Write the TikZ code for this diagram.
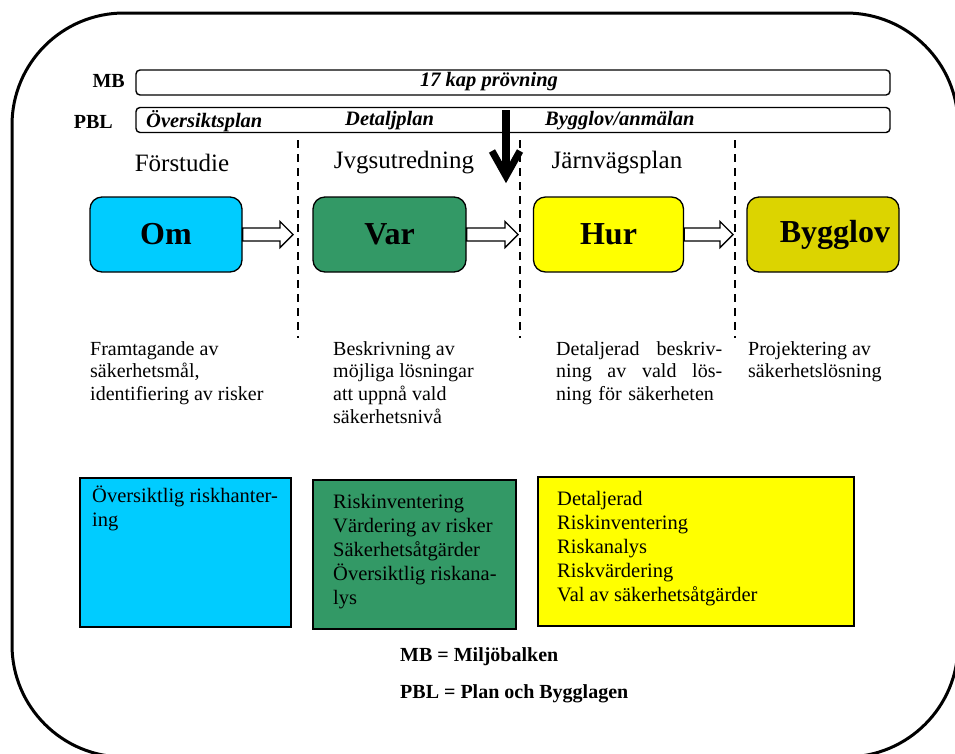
\documentclass[tikz,border=0pt]{standalone}
\usepackage{fontspec}
\setmainfont{Liberation Serif}
\usetikzlibrary{calc}
\definecolor{omcyan}{HTML}{00CCFF}
\definecolor{vargreen}{HTML}{339966}
\definecolor{huryellow}{HTML}{FFFF00}
\definecolor{byggolive}{RGB}{220,212,0}
\newcommand\fsz[2]{\fontsize{#1}{#2}\selectfont}
\tikzset{
  frame/.style={line width=3pt, rounded corners=112pt},
  barbox/.style={draw, line width=1.4pt, rounded corners=4pt, minimum width=754pt, minimum height=25pt, inner sep=0pt},
  barlabel/.style={font=\fsz{20}{24}\bfseries, inner sep=0pt},
  bartext/.style={font=\fsz{20.5}{24}\bfseries\itshape, inner sep=0pt},
  phaselabel/.style={font=\fsz{25}{30}, inner sep=0pt},
  procbox/.style={draw, line width=1.3pt, rounded corners=12pt, minimum height=75pt, inner sep=0pt, font=\fsz{32}{36}\bfseries},
  phasedash/.style={line width=2pt, dash pattern=on 8pt off 6pt},
  blockarrow/.style={draw, fill=white, line width=1.4pt, line join=miter, to path={
    let \p1=(\tikztostart), \p2=(\tikztotarget) in
    (\x1,\y1+6.5pt) -- (\x2-13pt,\y1+6.5pt) -- (\x2-13pt,\y1+13pt) -- (\x2,\y1) --
    (\x2-13pt,\y1-13pt) -- (\x2-13pt,\y1-6.5pt) -- (\x1,\y1-6.5pt) -- cycle}},
  desc/.style={font=\fsz{20}{22.7}, inner sep=0pt, anchor=north west, align=left},
  riskbox/.style={draw, line width=2.2pt, anchor=north west, inner sep=0pt},
  risktext/.style={font=\fsz{20.5}{24}, inner sep=0pt, anchor=north west, align=left},
  legend/.style={font=\fsz{20}{24}\bfseries, inner sep=0pt, anchor=west},
}
\begin{document}
\begin{tikzpicture}[x=1pt,y=-1pt]
\useasboundingbox (0,0) rectangle (955,753);
\clip (0,0) rectangle (955,753);
% outer frame
\draw[frame] (12,13) rectangle (958,757);

% MB / PBL bars
\node[barbox] (mbbar) at (513,82.5) {};
\node[barbox] (pblbar) at (513,120) {};
\node[barlabel, anchor=east] (mblabel) at (125,81) {MB};
\node[barlabel, anchor=east] (pbllabel) at (113,122) {PBL};
\node[bartext] (kap17) at (489,82) {17 kap prövning};
\node[bartext, anchor=west] (oplan) at (146,121) {Översiktsplan};
\node[bartext, anchor=west] (dplan) at (345,121) {Detaljplan};
\node[bartext, anchor=west] (bygganm) at (545,121) {Bygglov/anmälan};

% phase labels
\node[phaselabel] (forst) at (182,163) {Förstudie};
\node[phaselabel] (jvgs) at (404,163) {Jvgsutredning};
\node[phaselabel] (jvplan) at (617,163) {Järnvägsplan};

% dashed separators
\coordinate (d1t) at (298,140); \coordinate (d1b) at (298,338);
\coordinate (d2t) at (520,140); \coordinate (d2b) at (520,338);
\coordinate (d3t) at (735,140); \coordinate (d3b) at (735,338);
\draw[phasedash] (d1t) -- (d1b);
\draw[phasedash] (d2t) -- (d2b);
\draw[phasedash] (d3t) -- (d3b);

% down arrow
\coordinate (dtop) at (506,110);
\coordinate (dmid) at (506,176);
\coordinate (dhl) at (492,151);
\coordinate (dhr) at (520,151);
\draw[line width=8pt] (dtop) -- (dmid);
\draw[line width=7pt, line join=miter, miter limit=10] (dhl) -- (dmid) -- (dhr);

% process boxes
\node[procbox, fill=omcyan, minimum width=152pt] (om) at (166,234.5) {Om};
\node[procbox, fill=vargreen, minimum width=153pt] (var) at (389.5,234.5) {Var};
\node[procbox, fill=huryellow, minimum width=150pt] (hur) at (608.5,234.5) {Hur};
\node[procbox, fill=byggolive, minimum width=152pt] (bygg) at (823,234.5) {};
\node[font=\fsz{32}{36}\bfseries, inner sep=0pt] (byggtext) at (835,234.5) {Bygglov};

% block arrows
\coordinate (tipA) at (293,234.5);
\coordinate (tipB) at (518,234.5);
\coordinate (tipC) at (733,234.5);
\path[blockarrow] (om.east) to (tipA);
\path[blockarrow] (var.east) to (tipB);
\path[blockarrow] (hur.east) to (tipC);

% descriptions
\node[desc] (desc1) at (90,339) {\strut Framtagande av\\säkerhetsmål,\\identifiering av risker};
\node[desc] (desc2) at (333,339) {\strut Beskrivning av\\möjliga lösningar\\att uppnå vald\\säkerhetsnivå};
\node[desc, text width=166pt, align=left] (desc3) at (556,339) {\strut Detaljerad\hfill beskriv-\\ning\hfill av\hfill vald\hfill lös-\\ning för säkerheten};
\node[desc] (desc4) at (748,339) {\strut Projektering av\\säkerhetslösning};

% risk boxes
\node[riskbox, fill=omcyan, minimum width=211pt, minimum height=149pt] (r1) at (79,477) {};
\node[riskbox, fill=vargreen, minimum width=203pt, minimum height=149pt] (r2) at (312,479) {};
\node[riskbox, fill=huryellow, minimum width=316pt, minimum height=149pt] (r3) at (537,476) {};
\node[risktext] (r1t) at (92,485) {\strut Översiktlig riskhanter-\\ing};
\node[risktext] (r2t) at (333,491) {\strut Riskinventering\\Värdering av risker\\Säkerhetsåtgärder\\Översiktlig riskana-\\lys};
\node[risktext] (r3t) at (557,488) {\strut Detaljerad\\Riskinventering\\Riskanalys\\Riskvärdering\\Val av säkerhetsåtgärder};

% legend
\node[legend] (leg1) at (400,657) {MB = Miljöbalken};
\node[legend] (leg2) at (400,694) {PBL = Plan och Bygglagen};
\end{tikzpicture}
\end{document}
